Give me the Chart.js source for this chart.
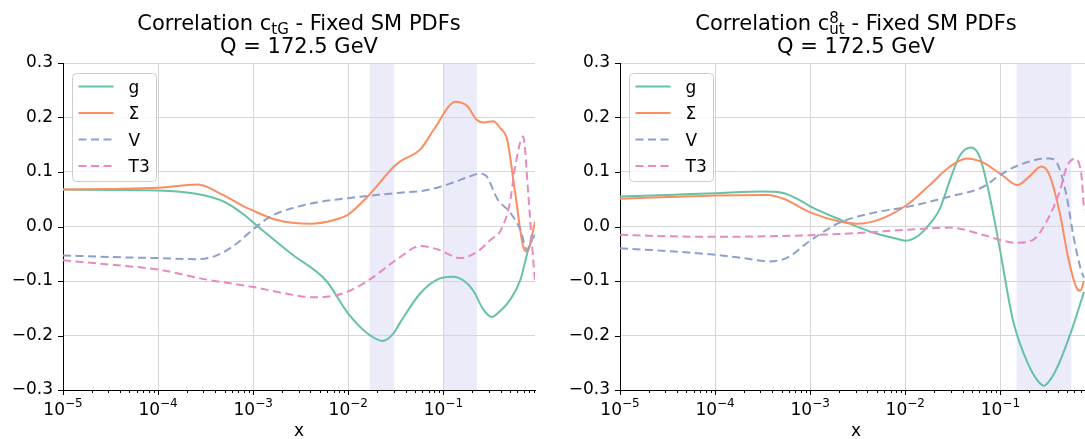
<!DOCTYPE html>
<html>
<head>
<meta charset="utf-8">
<script src="https://cdn.jsdelivr.net/npm/chart.js@4.4.1/dist/chart.umd.min.js"></script>
<style>
  html, body { margin: 0; padding: 0; background: #fff; overflow: hidden; width: 1085px; height: 439px; }
  canvas { position: absolute; top: 0; }
  #left { left: 0; }
  #right { left: 557px; }
</style>
</head>
<body>
<canvas id="left" width="545" height="439"></canvas>
<canvas id="right" width="545" height="439"></canvas>
<script>
// axis / legend data
const xTicks = [1e-5, 1e-4, 1e-3, 1e-2, 1e-1];
const xTickExps = ["\u22125", "\u22124", "\u22123", "\u22122", "\u22121"];
const yTicks = [-0.3, -0.2, -0.1, 0.0, 0.1, 0.2, 0.3];
const seriesNames = ["g", "\u03a3", "V", "T3"];
const seriesColors = ["#66c2a5", "#fc8d62", "#8da0cb", "#e78ac3"];
const xMin = 1e-5, xMax = 0.92;

// left panel: c_tG   (x given as log10 x)
const ctgGLogX = [-5, -4.5, -4, -3.6, -3.3, -3.1, -2.95, -2.6, -2.23, -2.0, -1.8, -1.64, -1.52, -1.45, -1.24, -1.05, -0.895, -0.78, -0.685, -0.58, -0.49, -0.42, -0.3, -0.19, -0.108, -0.07, -0.035];
const ctgG = [0.068, 0.067, 0.066, 0.06, 0.045, 0.022, 0.0, -0.05, -0.1, -0.16, -0.196, -0.21, -0.195, -0.175, -0.122, -0.096, -0.092, -0.1, -0.118, -0.152, -0.166, -0.158, -0.135, -0.098, -0.043, -0.025, -0.015];
const ctgSLogX = [-5, -4.5, -4, -3.58, -3.32, -3.1, -3.0, -2.77, -2.4, -2.15, -2.0, -1.78, -1.52, -1.45, -1.24, -1.1, -0.87, -0.75, -0.65, -0.58, -0.475, -0.4, -0.33, -0.245, -0.16, -0.12, -0.035];
const ctgS = [0.068, 0.069, 0.071, 0.077, 0.058, 0.037, 0.029, 0.013, 0.005, 0.012, 0.022, 0.058, 0.11, 0.12, 0.142, 0.178, 0.229, 0.221, 0.196, 0.191, 0.193, 0.18, 0.16, 0.062, -0.037, -0.046, 0.009];
const ctgVLogX = [-5, -4.5, -4, -3.6, -3.45, -3.3, -3.15, -3.0, -2.8, -2.6, -2.3, -2.0, -1.7, -1.45, -1.2, -1.03, -0.88, -0.75, -0.62, -0.55, -0.43, -0.3, -0.19, -0.12, -0.056, -0.035];
const ctgV = [-0.053, -0.056, -0.058, -0.06, -0.057, -0.046, -0.028, -0.005, 0.02, 0.033, 0.045, 0.052, 0.058, 0.062, 0.066, 0.073, 0.082, 0.09, 0.097, 0.093, 0.05, 0.026, -0.006, -0.043, -0.015, -0.015];
const ctgTLogX = [-5, -4.5, -4, -3.5, -3.0, -2.6, -2.35, -2.15, -2.0, -1.78, -1.5, -1.24, -1.06, -0.82, -0.7, -0.61, -0.5, -0.4, -0.3, -0.245, -0.16, -0.108, -0.066, -0.035];
const ctgT = [-0.062, -0.07, -0.079, -0.097, -0.111, -0.125, -0.13, -0.127, -0.119, -0.098, -0.062, -0.036, -0.042, -0.058, -0.052, -0.042, -0.024, -0.008, 0.044, 0.11, 0.165, 0.062, -0.037, -0.103];

// right panel: c_ut^8
const cutGLogX = [-5, -4.5, -4, -3.5, -3.3, -3.15, -3.0, -2.69, -2.34, -2.1, -2.0, -1.85, -1.72, -1.64, -1.53, -1.43, -1.31, -1.22, -1.12, -1.01, -0.87, -0.75, -0.62, -0.54, -0.47, -0.38, -0.25, -0.12];
const cutG = [0.055, 0.058, 0.061, 0.064, 0.062, 0.052, 0.037, 0.013, -0.011, -0.022, -0.026, -0.015, 0.01, 0.031, 0.085, 0.129, 0.145, 0.129, 0.062, -0.037, -0.17, -0.235, -0.28, -0.292, -0.28, -0.25, -0.19, -0.12];
const cutSLogX = [-5, -4.5, -4, -3.45, -3.28, -3.0, -2.69, -2.51, -2.27, -1.98, -1.75, -1.53, -1.35, -1.19, -0.98, -0.82, -0.7, -0.57, -0.49, -0.38, -0.28, -0.2, -0.16, -0.12];
const cutS = [0.051, 0.054, 0.057, 0.058, 0.051, 0.026, 0.009, 0.005, 0.013, 0.04, 0.075, 0.11, 0.125, 0.118, 0.094, 0.076, 0.091, 0.11, 0.097, 0.029, -0.063, -0.112, -0.118, -0.1];
const cutVLogX = [-5, -4.5, -4, -3.7, -3.42, -3.24, -3.0, -2.69, -2.34, -1.98, -1.53, -1.19, -0.98, -0.77, -0.49, -0.41, -0.31, -0.23, -0.15, -0.12];
const cutV = [-0.04, -0.045, -0.052, -0.058, -0.064, -0.057, -0.026, 0.007, 0.025, 0.036, 0.055, 0.072, 0.097, 0.115, 0.125, 0.118, 0.062, -0.019, -0.081, -0.094];
const cutTLogX = [-5, -4.5, -4, -3.5, -3.0, -2.5, -1.98, -1.53, -1.19, -0.95, -0.83, -0.66, -0.52, -0.38, -0.3, -0.22, -0.15, -0.12];
const cutT = [-0.015, -0.018, -0.019, -0.018, -0.016, -0.012, -0.006, -0.002, -0.015, -0.027, -0.03, -0.025, 0.007, 0.062, 0.11, 0.124, 0.098, 0.03];

// shaded x ranges
const ctgBands = [[0.0168, 0.0305], [0.1, 0.226]];
const cutBands = [[0.148, 0.558]];

const FONT = "'DejaVu Sans', sans-serif";
const gridColor = "#d6d6d6";

function pts(logX, vals) {
    return logX.map((e, i) => ({ x: Math.pow(10, e), y: vals[i] }));
}

function drawTitle(ctx, cx, parts) {
    const big = "21px " + FONT, small = "15px " + FONT;
    const widths = parts.map(p => {
        if (p.text !== undefined) { ctx.font = big; return ctx.measureText(p.text).width; }
        ctx.font = small;
        return Math.max(p.sub ? ctx.measureText(p.sub).width : 0, p.sup ? ctx.measureText(p.sup).width : 0);
    });
    let x = cx - widths.reduce((a, b) => a + b, 0) / 2;
    const base = 30;
    ctx.textAlign = "left";
    ctx.textBaseline = "alphabetic";
    parts.forEach((p, i) => {
        if (p.text !== undefined) {
            ctx.font = big;
            ctx.fillText(p.text, x, base);
        } else {
            ctx.font = small;
            if (p.sup) ctx.fillText(p.sup, x, base - 7);
            if (p.sub) ctx.fillText(p.sub, x, base + 4);
        }
        x += widths[i];
    });
    ctx.font = big;
    ctx.textAlign = "center";
    ctx.fillText("Q = 172.5 GeV", cx, 53);
}

const decor = {
    id: "decor",
    beforeDraw(chart, args, opts) {
        const { ctx, chartArea: a, scales: { x } } = chart;
        ctx.save();
        ctx.fillStyle = "#ebebfa";
        opts.bands.forEach(([lo, hi]) => {
            const p0 = x.getPixelForValue(lo), p1 = x.getPixelForValue(hi);
            ctx.fillRect(p0, a.top, p1 - p0, a.bottom - a.top);
        });
        ctx.restore();
    },
    afterDraw(chart, args, opts) {
        const { ctx, chartArea: a, scales: { x, y } } = chart;
        ctx.save();
        ctx.fillStyle = "#000";
        ctx.strokeStyle = "#000";
        ctx.lineWidth = 1;

        // x ticks (major + minor)
        ctx.beginPath();
        for (let k = -5; k <= -1; k++) {
            for (let m = 1; m <= 9; m++) {
                const v = m * Math.pow(10, k);
                if (v > xMax) continue;
                const px = Math.round(x.getPixelForValue(v)) + 0.5;
                ctx.moveTo(px, a.bottom);
                ctx.lineTo(px, a.bottom + (m === 1 ? 5 : 3));
            }
        }
        // y ticks
        yTicks.forEach(v => {
            const py = Math.round(y.getPixelForValue(v)) + 0.5;
            ctx.moveTo(a.left - 5, py);
            ctx.lineTo(a.left, py);
        });
        ctx.stroke();

        // y labels
        ctx.font = "17px " + FONT;
        ctx.textAlign = "right";
        ctx.textBaseline = "middle";
        yTicks.forEach(v => {
            ctx.fillText(v.toFixed(1).replace("-", "\u2212"), a.left - 10, y.getPixelForValue(v));
        });

        // x labels 10^k
        ctx.textAlign = "left";
        ctx.textBaseline = "alphabetic";
        xTicks.forEach((v, i) => {
            const px = x.getPixelForValue(v);
            ctx.font = "17px " + FONT;
            const w1 = ctx.measureText("10").width;
            ctx.font = "12px " + FONT;
            const w2 = ctx.measureText(xTickExps[i]).width;
            const x0 = px - (w1 + w2) / 2;
            ctx.font = "17px " + FONT;
            ctx.fillText("10", x0, a.bottom + 25);
            ctx.font = "12px " + FONT;
            ctx.fillText(xTickExps[i], x0 + w1, a.bottom + 17);
        });
        ctx.font = "17px " + FONT;
        ctx.textAlign = "center";
        ctx.fillText("x", (a.left + a.right) / 2, a.bottom + 46);

        // title
        drawTitle(ctx, (a.left + a.right) / 2, opts.title);

        // legend
        const lx = a.left + 9.5, ly = a.top + 10.5, lw = 84, lh = 108, r = 4;
        ctx.beginPath();
        ctx.moveTo(lx + r, ly);
        ctx.arcTo(lx + lw, ly, lx + lw, ly + lh, r);
        ctx.arcTo(lx + lw, ly + lh, lx, ly + lh, r);
        ctx.arcTo(lx, ly + lh, lx, ly, r);
        ctx.arcTo(lx, ly, lx + lw, ly, r);
        ctx.closePath();
        ctx.fillStyle = "rgba(255,255,255,0.8)";
        ctx.fill();
        ctx.strokeStyle = "#cccccc";
        ctx.stroke();
        chart.data.datasets.forEach((ds, i) => {
            const ry = ly + 13 + i * 26.5;
            ctx.beginPath();
            ctx.setLineDash(ds.borderDash);
            ctx.strokeStyle = ds.borderColor;
            ctx.lineWidth = 2;
            ctx.moveTo(lx + 6, ry);
            ctx.lineTo(lx + 41, ry);
            ctx.stroke();
            ctx.setLineDash([]);
            ctx.fillStyle = "#000";
            ctx.font = "17px " + FONT;
            ctx.textAlign = "left";
            ctx.textBaseline = "alphabetic";
            ctx.fillText(ds.label, lx + 56, ry + 6);
        });
        ctx.restore();
    }
};

function makeChart(id, series, bands, title) {
    const datasets = series.map((s, i) => ({
        label: seriesNames[i],
        data: pts(s[0], s[1]),
        borderColor: seriesColors[i],
        borderWidth: 2,
        borderDash: i >= 2 ? [8, 4.5] : [],
        pointRadius: 0,
        cubicInterpolationMode: "monotone",
        fill: false,
        order: 4 - i
    }));
    return new Chart(document.getElementById(id), {
        type: "line",
        data: { datasets },
        options: {
            responsive: false,
            animation: false,
            events: [],
            layout: { padding: { left: 63, right: 10, top: 63, bottom: 49 } },
            plugins: {
                legend: { display: false },
                tooltip: { enabled: false },
                decor: { bands, title }
            },
            scales: {
                x: {
                    type: "logarithmic",
                    min: xMin,
                    max: xMax,
                    bounds: "data",
                    afterBuildTicks: s => { s.ticks = xTicks.map(v => ({ value: v })); },
                    ticks: { display: false },
                    grid: { drawTicks: false, lineWidth: 1, color: c => c.index === 0 ? "rgba(0,0,0,0)" : gridColor },
                    border: { display: true, color: "#000", width: 1 }
                },
                y: {
                    type: "linear",
                    min: -0.3,
                    max: 0.3,
                    afterBuildTicks: s => { s.ticks = yTicks.map(v => ({ value: v })); },
                    ticks: { display: false },
                    grid: { drawTicks: false, lineWidth: 1, color: c => c.index === 0 ? "rgba(0,0,0,0)" : gridColor },
                    border: { display: true, color: "#000", width: 1 }
                }
            }
        },
        plugins: [decor]
    });
}

makeChart("left",
    [[ctgGLogX, ctgG], [ctgSLogX, ctgS], [ctgVLogX, ctgV], [ctgTLogX, ctgT]],
    ctgBands,
    [{ text: "Correlation c" }, { sub: "tG" }, { text: " - Fixed SM PDFs" }]);

makeChart("right",
    [[cutGLogX, cutG], [cutSLogX, cutS], [cutVLogX, cutV], [cutTLogX, cutT]],
    cutBands,
    [{ text: "Correlation c" }, { sup: "8", sub: "ut" }, { text: " - Fixed SM PDFs" }]);
</script>
</body>
</html>
